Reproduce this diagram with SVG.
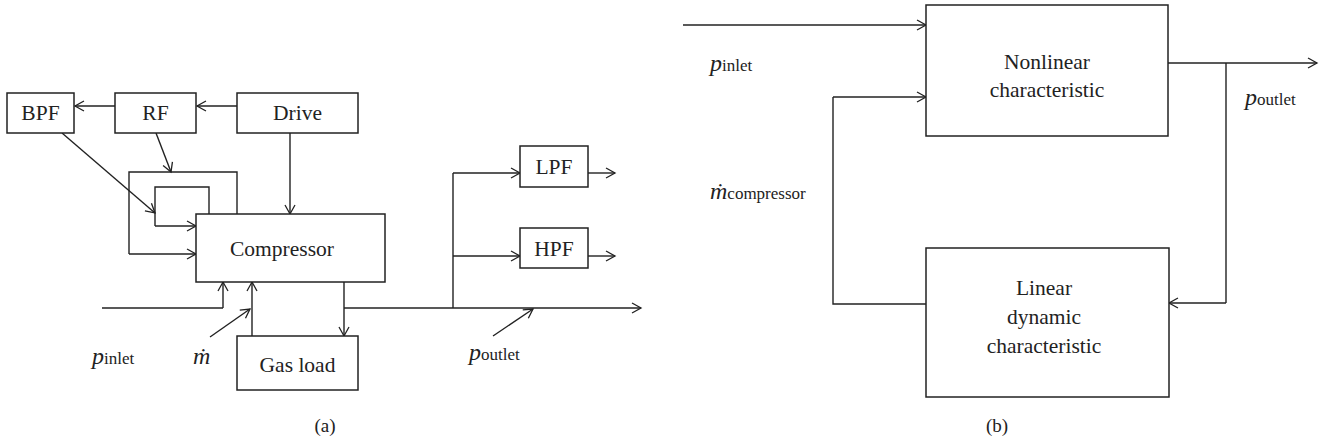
<svg xmlns="http://www.w3.org/2000/svg" width="1327" height="443" viewBox="0 0 1327 443">
<defs>
<marker id="ah" markerWidth="12" markerHeight="12" refX="10" refY="6" orient="auto" markerUnits="userSpaceOnUse">
<path d="M1,1 L10,6 L1,11" fill="none" stroke="#222" stroke-width="1.3"/>
</marker>
<style>
.box{fill:#fff;stroke:#222;stroke-width:1.5}
.ln{fill:none;stroke:#222;stroke-width:1.4}
.ar{fill:none;stroke:#222;stroke-width:1.4;marker-end:url(#ah)}
.t{font-family:"Liberation Serif",serif;font-size:21.5px;fill:#222;text-anchor:middle}
.v{font-family:"Liberation Serif",serif;font-size:24px;font-style:italic;fill:#222}
.s{font-family:"Liberation Serif",serif;font-size:17px;font-style:normal;fill:#222}
.cap{font-family:"Liberation Serif",serif;font-size:19px;fill:#222;text-anchor:middle}
</style>
</defs>
<rect width="1327" height="443" fill="#fff"/>
<g id="connectors">
<line class="ar" x1="115" y1="106" x2="75" y2="106"/>
<line class="ar" x1="237" y1="106" x2="197" y2="106"/>
<line class="ar" x1="62" y1="133" x2="155" y2="213"/>
<line class="ar" x1="156" y1="133" x2="171" y2="172"/>
<polyline class="ln" points="237,214 237,172 129,172 129,254"/>
<line class="ar" x1="129" y1="254" x2="196" y2="254"/>
<polyline class="ln" points="209,214 209,187 155,187 155,226"/>
<line class="ar" x1="155" y1="226" x2="196" y2="226"/>
<line class="ar" x1="290" y1="133" x2="290" y2="214"/>
<polyline class="ln" points="102,308 223,308"/>
<line class="ar" x1="223" y1="308" x2="223" y2="282"/>
<line class="ar" x1="252" y1="336" x2="252" y2="282"/>
<line class="ar" x1="210" y1="337" x2="250" y2="309"/>
<line class="ar" x1="344" y1="282" x2="344" y2="336"/>
<line class="ar" x1="344" y1="308" x2="641" y2="308"/>
<polyline class="ln" points="453,308 453,173"/>
<line class="ar" x1="453" y1="173" x2="520" y2="173"/>
<line class="ar" x1="453" y1="256" x2="520" y2="256"/>
<line class="ar" x1="588" y1="173" x2="615" y2="173"/>
<line class="ar" x1="588" y1="256" x2="615" y2="256"/>
<line class="ar" x1="493" y1="336" x2="533" y2="309"/>
<line class="ar" x1="683" y1="25" x2="926" y2="25"/>
<polyline class="ln" points="926,304 833,304 833,97"/>
<line class="ar" x1="833" y1="97" x2="926" y2="97"/>
<line class="ar" x1="1168" y1="63" x2="1317" y2="63"/>
<polyline class="ln" points="1226,63 1226,303"/>
<line class="ar" x1="1226" y1="303" x2="1169" y2="303"/>
</g>
<g id="bpf"><rect class="box" x="7" y="93" width="67" height="40"/><text class="t" x="40.5" y="120">BPF</text></g>
<g id="rf"><rect class="box" x="115" y="93" width="81" height="40"/><text class="t" x="155.5" y="120">RF</text></g>
<g id="drive"><rect class="box" x="237" y="93" width="121" height="40"/><text class="t" x="297.5" y="120">Drive</text></g>
<g id="compressor"><rect class="box" x="196" y="214" width="189" height="68"/><text class="t" x="282" y="256">Compressor</text></g>
<g id="gasload"><rect class="box" x="237" y="336" width="121" height="54"/><text class="t" x="297.5" y="372">Gas load</text></g>
<g id="lpf"><rect class="box" x="520" y="146" width="68" height="41"/><text class="t" x="554" y="174">LPF</text></g>
<g id="hpf"><rect class="box" x="520" y="228" width="68" height="40"/><text class="t" x="554" y="256">HPF</text></g>
<g id="nonlinear"><rect class="box" x="926" y="5" width="242" height="131"/><text class="t" x="1047" y="69">Nonlinear</text><text class="t" x="1047" y="97">characteristic</text></g>
<g id="linear"><rect class="box" x="926" y="248" width="243" height="149"/><text class="t" x="1044" y="295">Linear</text><text class="t" x="1044" y="324">dynamic</text><text class="t" x="1044" y="353">characteristic</text></g>
<g id="labels">
<text class="v" x="92" y="364">p<tspan class="s">inlet</tspan></text>
<text class="v" x="193" y="364">ṁ</text>
<text class="v" x="469" y="360">p<tspan class="s">outlet</tspan></text>
<text class="v" x="710" y="71">p<tspan class="s">inlet</tspan></text>
<text class="v" x="710" y="199">ṁ<tspan class="s">compressor</tspan></text>
<text class="v" x="1245" y="105">p<tspan class="s">outlet</tspan></text>
<text class="cap" x="325" y="432">(a)</text>
<text class="cap" x="997" y="432">(b)</text>
</g>
</svg>
